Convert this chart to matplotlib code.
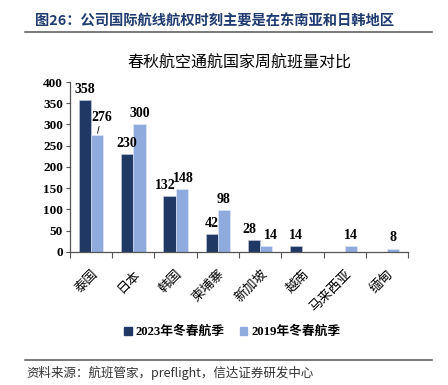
import numpy as np
import matplotlib.pyplot as plt
from matplotlib.patches import Rectangle
from matplotlib.lines import Line2D

# data
countries = ['泰国', '日本', '韩国', '柬埔寨', '新加坡', '越南', '马来西亚', '缅甸']
flights_2023 = [358, 230, 132, 42, 28, 14, 0, 0]
flights_2019 = [276, 300, 148, 98, 14, 0, 14, 8]
yticks = [0, 50, 100, 150, 200, 250, 300, 350, 400]

DARK = '#203864'
LIGHT = '#8FAADC'
FONTS = ['Liberation Serif', 'Noto Sans CJK SC']
CJK = ['Noto Sans CJK SC', 'Liberation Serif']

fig = plt.figure(figsize=(4.48, 3.85), dpi=100)
ax = fig.add_axes([0.156, 0.3455, 0.755, 0.4415])

x = np.arange(len(countries))
w = 0.29
ax.bar(x - w / 2, flights_2023, w, color=DARK, edgecolor='#c8d0e0', linewidth=0.4)
ax.bar(x + w / 2, flights_2019, w, color=LIGHT, edgecolor='#e4ebf7', linewidth=0.4)

# data labels (small sideways nudges where the reference has them)
shift_2023 = {2: -3, 4: -3}
shift_2019 = {2: 1, 4: 3}
for i in range(len(countries)):
    v = flights_2023[i]
    if v > 0:
        ax.annotate(str(v), (x[i] - w / 2, v), xytext=(shift_2023.get(i, 0), 3),
                    textcoords='offset points', ha='center', va='bottom',
                    fontsize=10, fontweight='bold', family=FONTS)
    v = flights_2019[i]
    if v > 0:
        if i == 0:
            ax.annotate(str(v), (x[i] + w / 2, v), xytext=(3, 8), textcoords='offset points',
                        ha='center', va='bottom', fontsize=10, fontweight='bold', family=FONTS,
                        arrowprops=dict(arrowstyle='-', color='black', lw=0.6,
                                        shrinkA=0, shrinkB=1))
        else:
            ax.annotate(str(v), (x[i] + w / 2, v), xytext=(shift_2019.get(i, 0), 3),
                        textcoords='offset points', ha='center', va='bottom',
                        fontsize=10, fontweight='bold', family=FONTS)

ax.set_xlim(-0.5, len(countries) - 0.5)
ax.set_ylim(0, 400)
ax.set_yticks(yticks)
ax.set_yticklabels([str(t) for t in yticks], fontsize=9.5, fontweight='bold', family=FONTS)
ax.tick_params(axis='y', length=3, width=0.8, color='#555555', pad=2)

ax.set_xticks(x)
ax.set_xticklabels(countries, rotation=45, ha='right', va='top', rotation_mode='anchor',
                   fontsize=9.5, family=CJK)
ax.tick_params(axis='x', which='major', length=0, pad=11)
ax.set_xticks(np.arange(len(countries) + 1) - 0.5, minor=True)
ax.tick_params(axis='x', which='minor', length=4, width=0.8, color='#555555', direction='out')

for s in ['top', 'right']:
    ax.spines[s].set_visible(False)
for s in ['left', 'bottom']:
    ax.spines[s].set_color('#555555')
    ax.spines[s].set_linewidth(0.9)

# legend
handles = [Rectangle((0, 0), 1, 1, color=DARK), Rectangle((0, 0), 1, 1, color=LIGHT)]
fig.legend(handles, ['2023年冬春航季', '2019年冬春航季'], loc='center', bbox_to_anchor=(0.518, 0.138),
           ncol=2, frameon=False, handlelength=0.6, handleheight=0.6, handletextpad=0.3,
           columnspacing=1.2, prop=dict(family=FONTS, weight='bold', size=9.2))

# header, chart title, rules and source
fig.text(0.078, 0.943, '图26：公司国际航线航权时刻主要是在东南亚和日韩地区', fontsize=10.3,
         fontweight='bold', color='#1F3B70', family=CJK, va='center')
fig.add_artist(Line2D([0.056, 0.965], [0.917, 0.917], color='#555555', lw=1.1))
fig.text(0.535, 0.836, '春秋航空通航国家周航班量对比', fontsize=11.5, family=CJK,
         ha='center', va='center')
fig.add_artist(Line2D([0.056, 0.965], [0.064, 0.064], color='#555555', lw=1.1))
fig.text(0.058, 0.03, '资料来源：航班管家，preflight，信达证券研发中心', fontsize=9,
         style='italic', color='#333333', family=CJK, va='center')

fig.savefig('out.png', dpi=100)
